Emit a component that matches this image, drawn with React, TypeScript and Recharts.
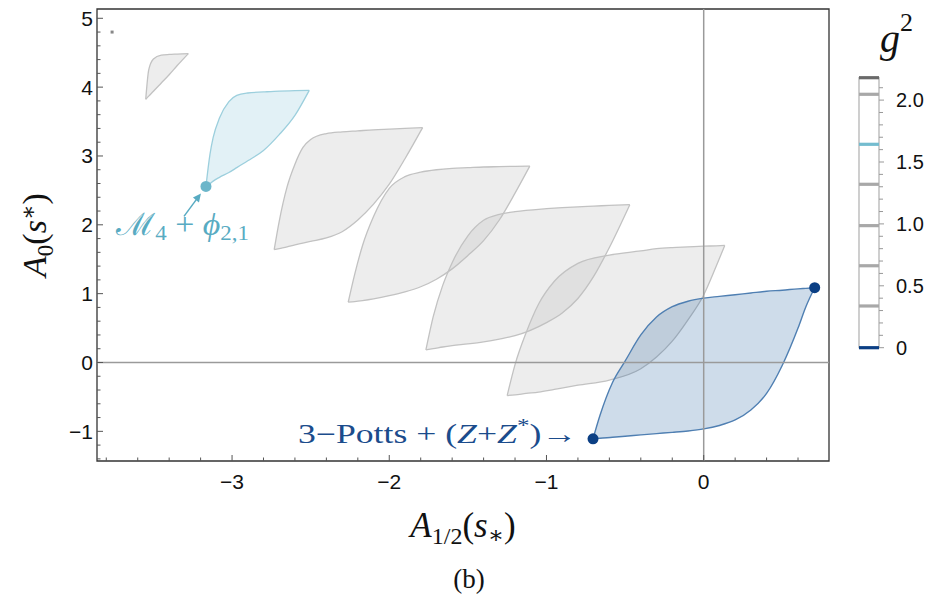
import React from "react";
import {
  ComposedChart,
  Area,
  Scatter,
  XAxis,
  YAxis,
  ReferenceLine,
  ReferenceArea,
  ReferenceDot,
  Label,
} from "recharts";

// tick positions
const xTicks = [-3.8, -3.6, -3.4, -3.2, -3, -2.8, -2.6, -2.4, -2.2, -2, -1.8, -1.6, -1.4, -1.2, -1, -0.8, -0.6, -0.4, -0.2, 0, 0.2, 0.4, 0.6];
const yTicks = [-1.4, -1.2, -1, -0.8, -0.6, -0.4, -0.2, 0, 0.2, 0.4, 0.6, 0.8, 1, 1.2, 1.4, 1.6, 1.8, 2, 2.2, 2.4, 2.6, 2.8, 3, 3.2, 3.4, 3.6, 3.8, 4, 4.2, 4.4, 4.6, 4.8, 5];
const gTicks = [0, 0.1, 0.2, 0.3, 0.4, 0.5, 0.6, 0.7, 0.8, 0.9, 1, 1.1, 1.2, 1.3, 1.4, 1.5, 1.6, 1.7, 1.8, 1.9, 2, 2.1];

// g^2 values marked on the colour bar
const gLevels = [0, 0.337, 0.662, 0.986, 1.32, 1.643, 2.047, 2.181];
const gLevelColors = ["#0b3f84", "#a8a8a8", "#a8a8a8", "#a8a8a8", "#a8a8a8", "#74bccf", "#a8a8a8", "#6a6a6a"];

// regions: x grid, lower edge, upper edge
const r1X = [-3.549, -3.53, -3.5, -3.45, -3.4, -3.35, -3.278];
const r1Lo = [3.823, 3.87, 3.94, 4.06, 4.18, 4.31, 4.487];
const r1Hi = [3.823, 4.25, 4.41, 4.465, 4.475, 4.48, 4.487];

const m4X = [-3.166, -3.14, -3.12, -3.08, -3.02, -2.97, -2.9, -2.8, -2.7, -2.6, -2.509];
const m4Lo = [2.558, 2.6, 2.635, 2.69, 2.76, 2.83, 2.93, 3.08, 3.31, 3.59, 3.953];
const m4Hi = [2.558, 3.03, 3.27, 3.55, 3.79, 3.88, 3.915, 3.93, 3.943, 3.948, 3.953];

const r3X = [-2.732, -2.7, -2.65, -2.6, -2.55, -2.5, -2.4, -2.3, -2.2, -2.1, -2.0, -1.9, -1.788];
const r3Lo = [1.638, 1.655, 1.68, 1.71, 1.735, 1.76, 1.81, 1.9, 2.07, 2.3, 2.59, 2.96, 3.411];
const r3Hi = [1.638, 2.05, 2.55, 2.88, 3.12, 3.24, 3.325, 3.35, 3.365, 3.38, 3.39, 3.4, 3.411];

const r4X = [-2.261, -2.22, -2.17, -2.1, -2.0, -1.9, -1.8, -1.7, -1.6, -1.5, -1.4, -1.3, -1.2, -1.106];
const r4Lo = [0.876, 0.885, 0.9, 0.925, 0.97, 1.025, 1.1, 1.21, 1.36, 1.555, 1.77, 2.07, 2.46, 2.853];
const r4Hi = [0.876, 1.28, 1.7, 2.12, 2.53, 2.7, 2.765, 2.8, 2.82, 2.83, 2.84, 2.845, 2.85, 2.853];

const r5X = [-1.767, -1.72, -1.66, -1.6, -1.5, -1.4, -1.3, -1.2, -1.0, -0.9, -0.8, -0.7, -0.6, -0.47];
const r5Lo = [0.184, 0.2, 0.225, 0.245, 0.27, 0.3, 0.34, 0.39, 0.58, 0.72, 0.93, 1.25, 1.67, 2.292];
const r5Hi = [0.184, 0.67, 1.12, 1.45, 1.84, 2.065, 2.15, 2.19, 2.234, 2.25, 2.262, 2.272, 2.282, 2.292];

const r6X = [-1.25, -1.2, -1.13, -1.05, -0.95, -0.8, -0.6, -0.4, -0.3, -0.2, -0.1, 0, 0.08, 0.134];
const r6Lo = [-0.48, -0.47, -0.45, -0.43, -0.39, -0.33, -0.255, -0.09, 0.08, 0.31, 0.62, 0.98, 1.4, 1.7];
const r6Hi = [-0.48, -0.03, 0.43, 0.85, 1.18, 1.44, 1.56, 1.62, 1.653, 1.67, 1.68, 1.69, 1.695, 1.7];

const pottsX = [-0.704, -0.66, -0.58, -0.5, -0.4, -0.3, -0.2, -0.1, 0, 0.1, 0.2, 0.3, 0.4, 0.5, 0.6, 0.65, 0.706];
const pottsLo = [-1.109, -1.1, -1.087, -1.072, -1.052, -1.033, -1.015, -0.995, -0.965, -0.915, -0.835, -0.69, -0.45, -0.04, 0.5, 0.81, 1.086];
const pottsHi = [-1.109, -0.77, -0.29, 0.02, 0.4, 0.66, 0.81, 0.89, 0.935, 0.96, 0.985, 1.01, 1.035, 1.05, 1.07, 1.077, 1.086];

const pottsEnds = [
  { x: -0.704, y: -1.109 },
  { x: 0.706, y: 1.086 },
];
const m4End = [{ x: -3.166, y: 2.558 }];
const strayPoint = [{ x: -3.763, y: 4.8 }];

const toRange = (xs: number[], lo: number[], hi: number[]) =>
  xs.map((x, i) => ({ x, y: [lo[i], hi[i]] }));

const grayRegions = [
  toRange(r1X, r1Lo, r1Hi),
  toRange(r3X, r3Lo, r3Hi),
  toRange(r4X, r4Lo, r4Hi),
  toRange(r5X, r5Lo, r5Hi),
  toRange(r6X, r6Lo, r6Hi),
];
const m4Region = toRange(m4X, m4Lo, m4Hi);
const pottsRegion = toRange(pottsX, pottsLo, pottsHi);

const SANS = "'Liberation Sans', Arial, sans-serif";
const SERIF = "'Liberation Serif', 'DejaVu Serif', serif";

const fmt = (v: number) => (v < 0 ? "\u2212" + Math.abs(v) : String(v));

const XTick = (props: any) => {
  const { x, y, payload } = props;
  const v = payload.value;
  const major = Math.abs(v - Math.round(v)) < 1e-6;
  return (
    <g>
      <line x1={x} y1={y} x2={x} y2={y - (major ? 6 : 3.5)} stroke="#555" />
      {major && (
        <text x={x} y={y + 28} textAnchor="middle" fontSize={21} fontFamily={SANS} fill="#111">
          {fmt(Math.round(v))}
        </text>
      )}
    </g>
  );
};

const YTick = (props: any) => {
  const { x, y, payload } = props;
  const v = payload.value;
  const major = Math.abs(v - Math.round(v)) < 1e-6;
  return (
    <g>
      <line x1={x} y1={y} x2={x + (major ? 6 : 3.5)} y2={y} stroke="#555" />
      {major && (
        <text x={x - 4} y={y + 7.5} textAnchor="end" fontSize={21} fontFamily={SANS} fill="#111">
          {fmt(Math.round(v))}
        </text>
      )}
    </g>
  );
};

const GTick = (props: any) => {
  const { x, y, payload } = props;
  const v = payload.value;
  const major = Math.abs(v * 2 - Math.round(v * 2)) < 1e-6;
  return (
    <g>
      <line x1={x} y1={y} x2={x + (major ? 5 : 4)} y2={y} stroke="#999" />
      {major && (
        <text x={x + 17} y={y + 7} fontSize={20} fontFamily={SANS} fill="#111">
          {v === 0 ? "0" : v.toFixed(1)}
        </text>
      )}
    </g>
  );
};

const XTitle = (props: any) => {
  const { x, y, width } = props.viewBox;
  const cx = x + width / 2;
  return (
    <g fontFamily={SERIF} fill="#111">
      <text x={cx} y={y + 76} textAnchor="middle" fontSize={35}>
        <tspan fontStyle="italic">A</tspan>
        <tspan fontSize={24} dy={7}>1/2</tspan>
        <tspan dy={-7}>(</tspan>
        <tspan fontStyle="italic">s</tspan>
        <tspan fontSize={24} dy={6}>{"\u2217"}</tspan>
        <tspan dy={-6}>)</tspan>
      </text>
      <text x={cx + 6} y={y + 127} textAnchor="middle" fontSize={27}>
        (b)
      </text>
    </g>
  );
};

const YTitle = (props: any) => {
  const { y, height } = props.viewBox;
  const cy = y + height / 2;
  const bx = 46;
  return (
    <text
      x={bx}
      y={cy}
      transform={`rotate(-90, ${bx}, ${cy})`}
      textAnchor="middle"
      fontSize={34}
      fontFamily={SERIF}
      fill="#111"
    >
      <tspan fontStyle="italic">A</tspan>
      <tspan fontSize={23} dy={7}>0</tspan>
      <tspan dy={-7}>(</tspan>
      <tspan fontStyle="italic">s</tspan>
      <tspan fontSize={23} dy={-10}>{"\u2217"}</tspan>
      <tspan dy={10}>)</tspan>
    </text>
  );
};

const GTitle = (props: any) => {
  const { x } = props.viewBox;
  return (
    <text x={x + 1} y={52} fontSize={40} fontFamily={SERIF} fill="#111">
      <tspan fontStyle="italic">g</tspan>
      <tspan fontSize={26} dy={-21}>2</tspan>
    </text>
  );
};

const M4Label = (props: any) => {
  const { x, y, width, height } = props.viewBox;
  const cx = x + width / 2;
  const cy = y + height / 2;
  const c = "#58abc2";
  return (
    <g>
      <line x1={cx - 22} y1={cy + 30} x2={cx - 8} y2={cy + 11} stroke={c} strokeWidth={1.5} />
      <polygon points={`${cx - 5},${cy + 7} ${cx - 13},${cy + 11} ${cx - 7},${cy + 16}`} fill={c} />
      <text x={cx - 90} y={cy + 49} fontSize={31} fontFamily={SERIF} fill={c} textLength={133} lengthAdjust="spacingAndGlyphs">
        <tspan fontFamily="'DejaVu Serif', serif">{"\u2133"}</tspan>
        <tspan fontSize={21} dy={5}>4</tspan>
        <tspan dy={-5}>{" + "}</tspan>
        <tspan fontStyle="italic">{"\u03D5"}</tspan>
        <tspan fontSize={21} dy={5}>2,1</tspan>
      </text>
    </g>
  );
};

const PottsLabel = (props: any) => {
  const { x, y, width, height } = props.viewBox;
  const cx = x + width / 2;
  const cy = y + height / 2;
  return (
    <text
      x={cx - 295}
      y={cy + 4}
      fontSize={27}
      fontFamily={SERIF}
      fill="#1b4c8c"
      textLength={279}
      lengthAdjust="spacingAndGlyphs"
    >
      <tspan>3{"\u2212"}Potts + (</tspan>
      <tspan fontStyle="italic">Z</tspan>
      <tspan>+</tspan>
      <tspan fontStyle="italic">Z</tspan>
      <tspan fontSize={19} dy={-11}>*</tspan>
      <tspan dy={11}>){"\u2192"}</tspan>
    </text>
  );
};

export default function App() {
  return (
    <div style={{ position: "absolute", left: 0, top: 0, width: 931, height: 597, background: "#fff" }}>
      <div style={{ position: "absolute", left: 0, top: 0 }}>
        <ComposedChart width={931} height={597} margin={{ top: 9, right: 102, bottom: 106, left: 0 }}>
          <XAxis
            dataKey="x"
            type="number"
            domain={[-3.859, 0.797]}
            allowDataOverflow
            ticks={xTicks}
            interval={0}
            height={30}
            tickSize={0}
            tickMargin={0}
            axisLine={false}
            tickLine={false}
            tick={<XTick />}
            label={<Label content={<XTitle />} />}
          />
          <YAxis
            type="number"
            domain={[-1.431, 5.135]}
            allowDataOverflow
            ticks={yTicks}
            interval={0}
            width={97}
            tickSize={0}
            tickMargin={0}
            axisLine={false}
            tickLine={false}
            tick={<YTick />}
            label={<Label content={<YTitle />} />}
          />
          <ReferenceLine x={0} stroke="#9a9a9a" strokeWidth={1.5} />
          <ReferenceLine y={0} stroke="#9a9a9a" strokeWidth={1.5} />
          {grayRegions.map((d, i) => (
            <Area
              key={i}
              data={d}
              dataKey="y"
              type="monotone"
              stroke="#c2c2c2"
              strokeWidth={1.3}
              fill="#bfbfbf"
              fillOpacity={0.28}
              dot={false}
              activeDot={false}
              isAnimationActive={false}
            />
          ))}
          <Area
            data={m4Region}
            dataKey="y"
            type="monotone"
            stroke="#9ccfdd"
            strokeWidth={1.3}
            fill="#5fb3cc"
            fillOpacity={0.18}
            dot={false}
            activeDot={false}
            isAnimationActive={false}
          />
          <Area
            data={pottsRegion}
            dataKey="y"
            type="monotone"
            stroke="#4f7fb2"
            strokeWidth={1.4}
            fill="#0b4f94"
            fillOpacity={0.2}
            dot={false}
            activeDot={false}
            isAnimationActive={false}
          />
          <Scatter data={pottsEnds} dataKey="y" fill="#0b3f84" shape={(p: any) => <circle cx={p.cx} cy={p.cy} r={5.5} fill="#0b3f84" />} isAnimationActive={false} />
          <Scatter data={m4End} dataKey="y" fill="#6cb6ca" shape={(p: any) => <circle cx={p.cx} cy={p.cy} r={5.5} fill="#6cb6ca" />} isAnimationActive={false} />
          <Scatter data={strayPoint} dataKey="y" fill="#888" shape={(p: any) => <rect x={p.cx - 1.5} y={p.cy - 1.5} width={3} height={3} fill="#888" />} isAnimationActive={false} />
          <ReferenceDot x={m4End[0].x} y={m4End[0].y} r={1} fill="none" stroke="none" label={<Label content={<M4Label />} />} />
          <ReferenceDot x={pottsEnds[0].x} y={pottsEnds[0].y} r={1} fill="none" stroke="none" label={<Label content={<PottsLabel />} />} />
          <ReferenceArea x1={-3.859} x2={0.797} y1={-1.431} y2={5.135} fill="none" stroke="#333" strokeWidth={1.3} />
        </ComposedChart>
      </div>
      <div style={{ position: "absolute", left: 830, top: 0 }}>
        <ComposedChart width={101} height={370} data={[{ x: 0 }, { x: 1 }]} margin={{ top: 77.7, right: 0, bottom: 22.3, left: 29 }}>
          <XAxis dataKey="x" type="number" domain={[0, 1]} hide />
          <YAxis
            type="number"
            orientation="right"
            domain={[0, 2.181]}
            allowDataOverflow
            ticks={gTicks}
            interval={0}
            width={52}
            tickSize={0}
            tickMargin={0}
            axisLine={false}
            tickLine={false}
            tick={<GTick />}
            label={<Label content={<GTitle />} />}
          />
          <ReferenceArea x1={0} x2={1} y1={0} y2={2.181} fill="#fff" stroke="#b5b5b5" strokeWidth={1.3} />
          {gLevels.map((g, i) => (
            <ReferenceLine
              key={i}
              segment={[
                { x: 0, y: g },
                { x: 1, y: g },
              ]}
              stroke={gLevelColors[i]}
              strokeWidth={3.2}
            />
          ))}
        </ComposedChart>
      </div>
    </div>
  );
}
